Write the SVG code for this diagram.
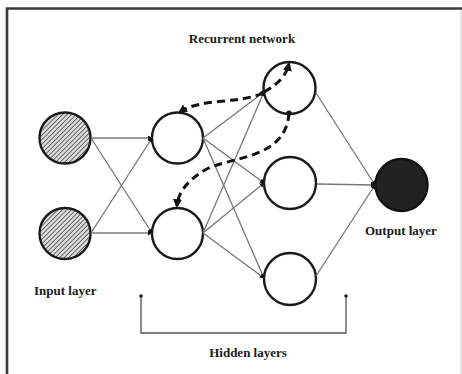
<svg xmlns="http://www.w3.org/2000/svg" width="462" height="374" viewBox="0 0 462 374">
  <style>
    .node { fill: #fff; stroke: #1a1a1a; stroke-width: 2.4; }
    .input { fill: url(#hatch); stroke: #1a1a1a; stroke-width: 2.4; }
    .output { fill: #222; stroke: #111; stroke-width: 2.4; }
    .edge { fill: none; stroke: #777; stroke-width: 1.3; }
    .rec { fill: none; stroke: #111; stroke-width: 3; stroke-dasharray: 8 5; }
    .bracket { fill: none; stroke: #555; stroke-width: 1.3; }
    .label { font-family: "Liberation Serif", "Times New Roman", serif; font-weight: bold; font-size: 13px; fill: #1a1a1a; }
  </style>
  <defs>
    <pattern id="hatch" patternUnits="userSpaceOnUse" width="3.2" height="3.2" patternTransform="rotate(45)">
      <rect width="3.2" height="3.2" fill="#dcdcdc"/>
      <line x1="0" y1="0" x2="0" y2="3.2" stroke="#444" stroke-width="1.5"/>
    </pattern>
    <marker id="dot" viewBox="0 0 6 6" refX="5" refY="3" markerWidth="5" markerHeight="5" orient="auto" markerUnits="userSpaceOnUse">
      <path d="M0,0 L6,3 L0,6 z" fill="#111"/>
    </marker>
    <marker id="head" viewBox="0 0 8 8" refX="6" refY="4" markerWidth="9" markerHeight="9" orient="auto" markerUnits="userSpaceOnUse">
      <path d="M0,0 L8,4 L0,8 z" fill="#111"/>
    </marker>
    <marker id="start" viewBox="0 0 6 6" refX="3" refY="3" markerWidth="6" markerHeight="6" markerUnits="userSpaceOnUse">
      <circle cx="3" cy="3" r="2.6" fill="#111"/>
    </marker>
  </defs>

  <!-- outer frame -->
  <path d="M7,374 V8.5 H462" fill="none" stroke="#3a3a3a" stroke-width="2.6"/>
  <line x1="461" y1="10" x2="461" y2="374" stroke="#ccc" stroke-width="1"/>

  <g id="input-1"><circle class="input" cx="65" cy="138" r="25.5"/></g>
  <g id="input-2"><circle class="input" cx="65" cy="233.5" r="25.5"/></g>
  <g id="hidden-1a"><circle class="node" cx="177.5" cy="138" r="25.5"/></g>
  <g id="hidden-1b"><circle class="node" cx="177.5" cy="233.5" r="25.5"/></g>
  <g id="hidden-2a"><circle class="node" cx="289.5" cy="88" r="26"/></g>
  <g id="hidden-2b"><circle class="node" cx="290" cy="183" r="26"/></g>
  <g id="hidden-2c"><circle class="node" cx="290" cy="279" r="26"/></g>
  <g id="output"><circle class="output" cx="401.5" cy="185" r="26"/></g>

  <!-- connectors drawn over the nodes so the self loop shows inside its circle -->
  <g id="connectors">
    <!-- input -> hidden 1 -->
    <path class="edge" marker-end="url(#dot)" d="M91,138 L152,138"/>
    <path class="edge" marker-end="url(#dot)" d="M91,138 L152,233"/>
    <path class="edge" marker-end="url(#dot)" d="M91,233 L152,138"/>
    <path class="edge" marker-end="url(#dot)" d="M91,233 L152,233"/>
    <!-- hidden 1 -> hidden 2 -->
    <path class="edge" marker-end="url(#dot)" d="M203,138 L264,92"/>
    <path class="edge" marker-end="url(#dot)" d="M203,138 L264,183"/>
    <path class="edge" marker-end="url(#dot)" d="M203,138 L264,278"/>
    <path class="edge" marker-end="url(#dot)" d="M203,233 L264,92"/>
    <path class="edge" marker-end="url(#dot)" d="M203,233 L264,183"/>
    <path class="edge" marker-end="url(#dot)" d="M203,233 L264,278"/>
    <!-- hidden 2 -> output -->
    <path class="edge" marker-end="url(#dot)" d="M316,93 L375,185"/>
    <path class="edge" marker-end="url(#dot)" d="M317,184 L375,185"/>
    <path class="edge" marker-end="url(#dot)" d="M316,276 L375,185"/>
    <!-- recurrent feedback -->
    <path class="rec" marker-start="url(#start)" marker-end="url(#head)" d="M263,93 C240,104 200,98 180,112"/>
    <path class="rec" marker-end="url(#head)" d="M264,92 C278,84 286,76 289,64"/>
    <path class="rec" marker-start="url(#start)" marker-end="url(#head)" d="M289,113 C286,160 230,156 205,170 C188,180 178,192 177,206"/>
    <!-- hidden layers bracket -->
    <path class="bracket" d="M141,297 V333 H346 V297"/>
    <circle cx="141" cy="296" r="1.8" fill="#222"/>
    <circle cx="346" cy="296" r="1.8" fill="#222"/>
  </g>

  <g id="labels">
    <text class="label" x="242" y="43" text-anchor="middle">Recurrent network</text>
    <text class="label" x="34" y="295">Input layer</text>
    <text class="label" x="365" y="235">Output layer</text>
    <text class="label" x="248" y="357" text-anchor="middle">Hidden layers</text>
  </g>
</svg>
